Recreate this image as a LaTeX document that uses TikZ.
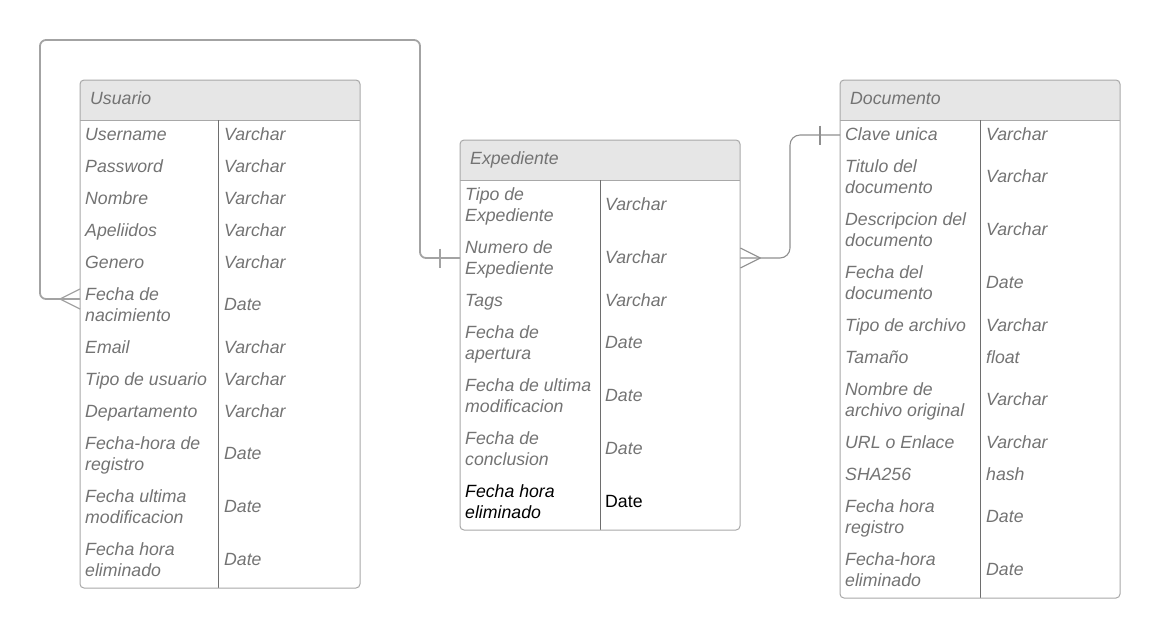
\documentclass[tikz,border=0pt]{standalone}
\usepackage{fontspec}
\setmainfont{Liberation Sans}
\definecolor{txtgray}{HTML}{737373}
\definecolor{hdrfill}{HTML}{E6E6E6}
\definecolor{framegray}{HTML}{A8A8A8}
\definecolor{divgray}{HTML}{6E6E6E}
\definecolor{conngray}{HTML}{A3A3A3}
\definecolor{conngrayb}{HTML}{8F8F8F}
\tikzset{
  txt/.style={inner sep=0pt, anchor=base west, text=txtgray, font=\itshape\fontsize{17.7}{21}\selectfont},
  txtblack/.style={txt, text=black},
  frame/.style={draw=framegray, line width=1pt, rounded corners=4pt},
  tablebox/.style={rectangle, inner sep=0pt, anchor=north west},
  divline/.style={draw=divgray, line width=0.9pt},
  hdrline/.style={draw=framegray, line width=1pt},
  connA/.style={draw=conngray, line width=1.8pt, rounded corners=6pt},
  connB/.style={draw=conngrayb, line width=1.1pt, rounded corners=10pt},
  endA/.style={draw=conngray, line width=1.3pt},
  endB/.style={draw=conngrayb, line width=1.1pt},
}
\newcommand\erone[6]{%
  \node[txt] (#1) at (#2+5,#4+4.3) {#5};
  \node[txt] (#1t) at (#3+6,#4+4.3) {#6};}
\newcommand\ertwo[7]{%
  \node[txt] (#1) at (#2+5,#4-6.2) {#5};
  \node[txt] (#1b) at (#2+5,#4+14.8) {#6};
  \node[txt] (#1t) at (#3+6,#4+4.3) {#7};}
\newcommand\ertable[7]{% name, xl, ytop, xr, ybot, xdiv, title
  \node[tablebox, minimum width=#4pt-#2pt, minimum height=#5pt-#3pt] (#1) at (#2,#3) {};
  \begin{scope}
    \clip[rounded corners=4pt] (#2,#3) rectangle (#4,#5);
    \fill[hdrfill] (#2,#3) rectangle (#4,#3+40);
  \end{scope}
  \draw[hdrline] (#2,#3+40) -- (#4,#3+40);
  \draw[divline] (#6,#3+40) -- (#6,#5);
  \draw[frame] (#2,#3) rectangle (#4,#5);
  \node[txt] (#1h) at (#2+10,#3+24.8) {#7};}
\begin{document}
\begin{tikzpicture}[x=1pt,y=-1pt]
\useasboundingbox (0,0) rectangle (1161,638);

% Usuario
\ertable{usu}{80}{80}{360}{588}{218}{Usuario}
\erone{u1}{80}{218}{136}{Username}{Varchar}
\erone{u2}{80}{218}{168}{Password}{Varchar}
\erone{u3}{80}{218}{200}{Nombre}{Varchar}
\erone{u4}{80}{218}{232}{Apeliidos}{Varchar}
\erone{u5}{80}{218}{264}{Genero}{Varchar}
\ertwo{u6}{80}{218}{306.5}{Fecha de}{nacimiento}{Date}
\erone{u7}{80}{218}{349}{Email}{Varchar}
\erone{u8}{80}{218}{381}{Tipo de usuario}{Varchar}
\erone{u9}{80}{218}{413}{Departamento}{Varchar}
\ertwo{u10}{80}{218}{455.5}{Fecha-hora de}{registro}{Date}
\ertwo{u11}{80}{218}{508.5}{Fecha ultima}{modificacion}{Date}
\ertwo{u12}{80}{218}{561.5}{Fecha hora}{eliminado}{Date}

% Expediente
\ertable{exp}{460}{140}{740}{530}{600}{Expediente}
\ertwo{e1}{460}{599}{206.5}{Tipo de}{Expediente}{Varchar}
\ertwo{e2}{460}{599}{259.5}{Numero de}{Expediente}{Varchar}
\erone{e3}{460}{599}{302}{Tags}{Varchar}
\ertwo{e4}{460}{599}{344.5}{Fecha de}{apertura}{Date}
\ertwo{e5}{460}{599}{397.5}{Fecha de ultima}{modificacion}{Date}
\ertwo{e6}{460}{599}{450.5}{Fecha de}{conclusion}{Date}
\node[txtblack] (e7) at (465,497.3) {Fecha hora};
\node[txtblack] (e7b) at (465,518.3) {eliminado};
\node[txtblack, font=\upshape\fontsize{17.7}{21}\selectfont] (e7t) at (605,507.8) {Date};

% Documento
\ertable{doc}{840}{80}{1120}{598}{980}{Documento}
\erone{d1}{840}{980}{136}{Clave unica}{Varchar}
\ertwo{d2}{840}{980}{178.5}{Titulo del}{documento}{Varchar}
\ertwo{d3}{840}{980}{231.5}{Descripcion del}{documento}{Varchar}
\ertwo{d4}{840}{980}{284.5}{Fecha del}{documento}{Date}
\erone{d5}{840}{980}{327}{Tipo de archivo}{Varchar}
\erone{d6}{840}{980}{359}{Tamaño}{float}
\ertwo{d7}{840}{980}{401.5}{Nombre de}{archivo original}{Varchar}
\erone{d8}{840}{980}{444}{URL o Enlace}{Varchar}
\erone{d9}{840}{980}{476}{SHA256}{hash}
\ertwo{d10}{840}{980}{518.5}{Fecha hora}{registro}{Date}
\ertwo{d11}{840}{980}{571.5}{Fecha-hora}{eliminado}{Date}

% connectors
\coordinate (cu) at (0,299);
\coordinate (cd) at (0,135);
\coordinate (ce) at (0,258);
\coordinate (topA) at (420,40);
\coordinate (leftA) at (40,299);
\coordinate (midB) at (790,135);

\draw[connA] (exp.west |- ce) -| (topA) -| (leftA) -- (usu.west |- cu);
\draw[endA] ([xshift=-20pt]exp.west |- ce) ++(0,-9.5) -- ++(0,19);
\draw[endA] ([xshift=-20pt]usu.west |- cu) -- ++(20,-10);
\draw[endA] ([xshift=-20pt]usu.west |- cu) -- ++(20,10);

\draw[connB] (exp.east |- ce) -| (midB) -- (doc.west |- cd);
\draw[endB] ([xshift=-20pt]doc.west |- cd) ++(0,-9.5) -- ++(0,19);
\draw[endB] ([xshift=20pt]exp.east |- ce) -- ++(-20,-10);
\draw[endB] ([xshift=20pt]exp.east |- ce) -- ++(-20,10);
\end{tikzpicture}
\end{document}
